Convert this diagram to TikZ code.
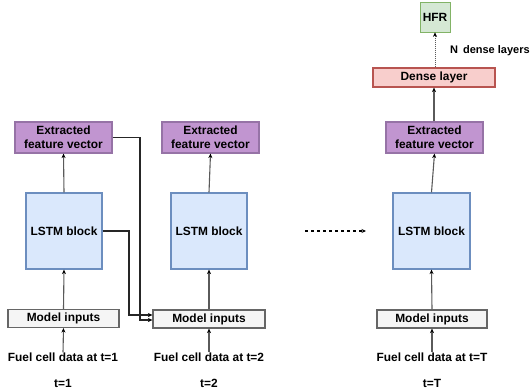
\documentclass[tikz,border=0pt]{standalone}
\usepackage{fontspec}
\setmainfont{Liberation Sans}
\usetikzlibrary{arrows.meta}
\definecolor{purpfill}{HTML}{C195D0}
\definecolor{purpline}{HTML}{9673A6}
\definecolor{bluefill}{HTML}{DAE8FC}
\definecolor{blueline}{HTML}{6C8EBF}
\definecolor{grayfill}{HTML}{F5F5F5}
\definecolor{grayline}{HTML}{666666}
\definecolor{redfill}{HTML}{F8CECC}
\definecolor{redline}{HTML}{B85450}
\definecolor{greenfill}{HTML}{D5E8D4}
\definecolor{greenline}{HTML}{82B366}
\definecolor{linecol}{HTML}{5A5A5A}
\tikzset{
  every node/.style={font=\bfseries\fontsize{11.9}{13.8}\selectfont, inner sep=0pt},
  extbox/.style={draw=purpline, fill=purpfill, line width=1.2pt, minimum width=97pt, minimum height=31pt, align=center},
  lstmbox/.style={draw=blueline, fill=bluefill, line width=1.2pt, minimum width=76pt, minimum height=76pt},
  inbox/.style={draw=grayline, fill=grayfill, line width=1.2pt, minimum height=18pt},
  densebox/.style={draw=redline, fill=redfill, line width=1.2pt, minimum width=122pt, minimum height=19pt},
  hfrbox/.style={draw=greenline, fill=greenfill, line width=0.7pt, minimum width=30pt, minimum height=30pt},
  conn/.style={draw=linecol, line width=1.1pt, -{Stealth[length=4.5pt,width=4pt,black]}},
  conndk/.style={draw=black!85, line width=1.1pt, -{Stealth[length=4.5pt,width=4pt,black]}},
}
\begin{document}
\begin{tikzpicture}[x=1pt,y=-1pt]
\useasboundingbox (0,0) rectangle (530,389);
% column 1
\node[extbox] (ext1) at (63.5,137.5) {Extracted\\feature vector};
\node[lstmbox] (lstm1) at (64,231) {LSTM block};
\node[inbox, minimum width=111pt] (mi1) at (63.5,318.5) {Model inputs};
\node (fuel1) at (63,357) {Fuel cell data at t=1};
\node (t1) at (63,383) {t=1};
% column 2
\node[extbox] (ext2) at (210.5,137.5) {Extracted\\feature vector};
\node[lstmbox] (lstm2) at (209,231) {LSTM block};
\node[inbox, minimum width=112pt] (mi2) at (209,319) {Model inputs};
\node (fuel2) at (209,357) {Fuel cell data at t=2};
\node (t2) at (209,383) {t=2};
% column 3
\node[extbox] (ext3) at (434.5,137.5) {Extracted\\feature vector};
\node[lstmbox, minimum width=77pt] (lstm3) at (431.5,231) {LSTM block};
\node[inbox, minimum width=110pt] (mi3) at (432,319) {Model inputs};
\node (fuel3) at (432,357) {Fuel cell data at t=T};
\node (t3) at (432,383) {t=T};
\node[densebox] (dense) at (434,77.5) {Dense layer};
\node[hfrbox] (hfr) at (435,17) {HFR};
\node[anchor=west, font=\bfseries\fontsize{11}{13}\selectfont] (ndl) at (450,51) {N\, dense layers};
% coordinates for dashed arrow
\coordinate (dA) at (305,231);
\coordinate (dB) at (366,231);
% arrows
\foreach \i in {1,2,3}{
  \draw[conn] (fuel\i.north) -- (mi\i.south);
  \draw[conn] (mi\i.north) -- (lstm\i.south);
  \draw[conn] (lstm\i.north) -- (ext\i.south);
}
\draw[conn] (ext3.north -| dense.south) -- (dense.south);
\draw[draw=linecol, line width=1pt, densely dotted, -{Stealth[length=4.5pt,width=4pt,black]}] (dense.north -| hfr.south) -- (hfr.south);
\draw[conndk] (lstm1.east) -- (129,231) |- ([yshift=4pt]mi2.west);
\draw[conndk] (ext1.east) -- (140,137.5) |- ([yshift=-1pt]mi2.west);
\draw[line width=1.1pt, dashed, -{Stealth[length=4.5pt,width=4pt]}] (dA) -- (dB);
\end{tikzpicture}
\end{document}
